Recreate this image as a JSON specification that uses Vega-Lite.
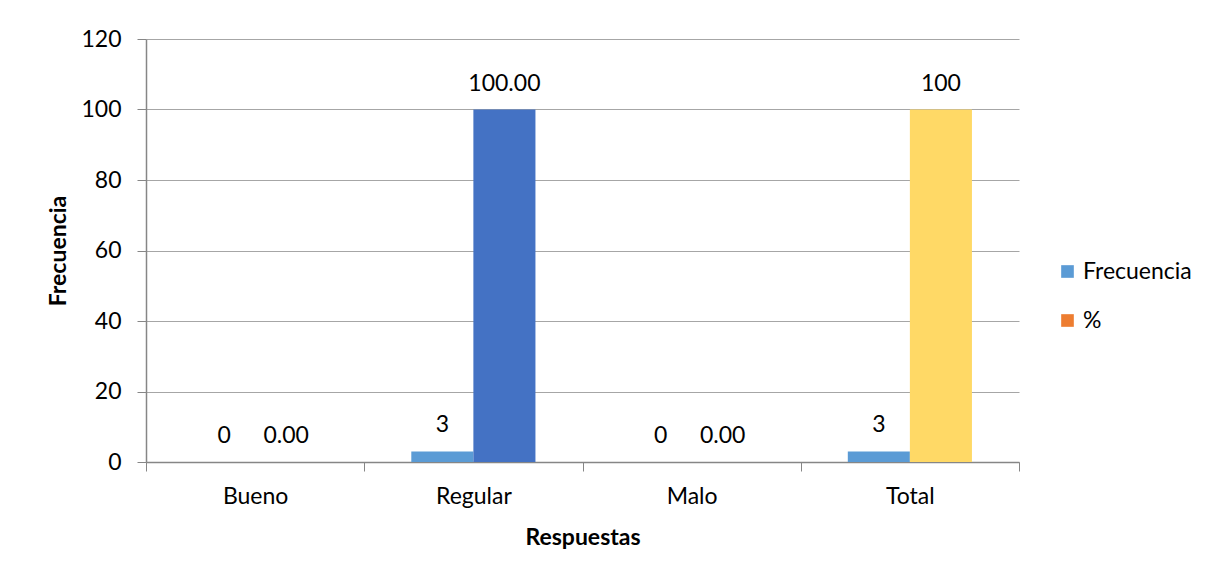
{
  "$schema": "https://vega.github.io/schema/vega-lite/v6.json",
  "autosize": {"type": "none"},
  "width": 873,
  "height": 423,
  "padding": {"left": 146, "top": 39, "right": 204, "bottom": 117},
  "background": "white",
  "config": {
    "font": "Lato",
    "view": {"stroke": null},
    "axis": {"labelFont": "Lato", "titleFont": "Lato", "labelColor": "black", "titleColor": "black"}
  },
  "data": {
    "values": [
      {"categoria": "Bueno", "serie": "Frecuencia", "valor": 0, "etiqueta": "0"},
      {"categoria": "Bueno", "serie": "%", "valor": 0, "etiqueta": "0.00"},
      {"categoria": "Regular", "serie": "Frecuencia", "valor": 3, "etiqueta": "3"},
      {"categoria": "Regular", "serie": "%", "valor": 100, "etiqueta": "100.00"},
      {"categoria": "Malo", "serie": "Frecuencia", "valor": 0, "etiqueta": "0"},
      {"categoria": "Malo", "serie": "%", "valor": 0, "etiqueta": "0.00"},
      {"categoria": "Total", "serie": "Frecuencia", "valor": 3, "etiqueta": "3"},
      {"categoria": "Total", "serie": "%", "valor": 100, "etiqueta": "100"}
    ]
  },
  "transform": [
    {"calculate": "datum.serie == '%' && datum.valor > 0 ? '% ' + datum.categoria : datum.serie", "as": "clave"}
  ],
  "encoding": {
    "x": {
      "field": "categoria", "type": "nominal", "sort": ["Bueno", "Regular", "Malo", "Total"],
      "scale": {"paddingInner": 0, "paddingOuter": 0},
      "axis": {
        "title": "Respuestas", "labelAngle": 0, "labelFontSize": 23, "titleFontSize": 23, "titleFontWeight": "bold",
        "tickBand": "extent", "tickSize": 9, "tickColor": "#868686", "domainColor": "#868686", "domainWidth": 1.5,
        "labelPadding": 14, "titlePadding": 18, "grid": false
      }
    },
    "xOffset": {"field": "serie", "type": "nominal", "sort": ["Frecuencia", "%"], "scale": {"paddingInner": 0, "paddingOuter": 0.758}},
    "y": {
      "field": "valor", "type": "quantitative",
      "scale": {"domain": [0, 120], "nice": false},
      "axis": {
        "title": "Frecuencia", "values": [0, 20, 40, 60, 80, 100, 120], "labelFontSize": 23, "titleFontSize": 23, "titleFontWeight": "bold",
        "tickSize": 9, "tickColor": "#868686", "domainColor": "#868686", "domainWidth": 1.5,
        "gridColor": "#A6A6A6", "gridWidth": 1.2, "labelPadding": 16, "titlePadding": 10
      }
    }
  },
  "layer": [
    {
      "mark": {"type": "bar"},
      "encoding": {
        "color": {
          "field": "clave", "type": "nominal",
          "scale": {"domain": ["Frecuencia", "%", "% Regular", "% Total"], "range": ["#5B9BD5", "#ED7D31", "#4472C4", "#FFD966"]},
          "legend": {
            "title": null, "values": ["Frecuencia", "%"], "orient": "none", "legendX": 910, "legendY": 221,
            "symbolType": "square", "symbolSize": 160, "symbolStrokeWidth": 0, "labelFontSize": 23, "labelFont": "Lato",
            "labelColor": "black", "rowPadding": 25, "labelOffset": 4
          }
        }
      }
    },
    {
      "mark": {"type": "text", "baseline": "middle", "dy": -26, "fontSize": 23, "font": "Lato", "color": "black"},
      "encoding": {"text": {"field": "etiqueta", "type": "nominal"}}
    }
  ]
}
